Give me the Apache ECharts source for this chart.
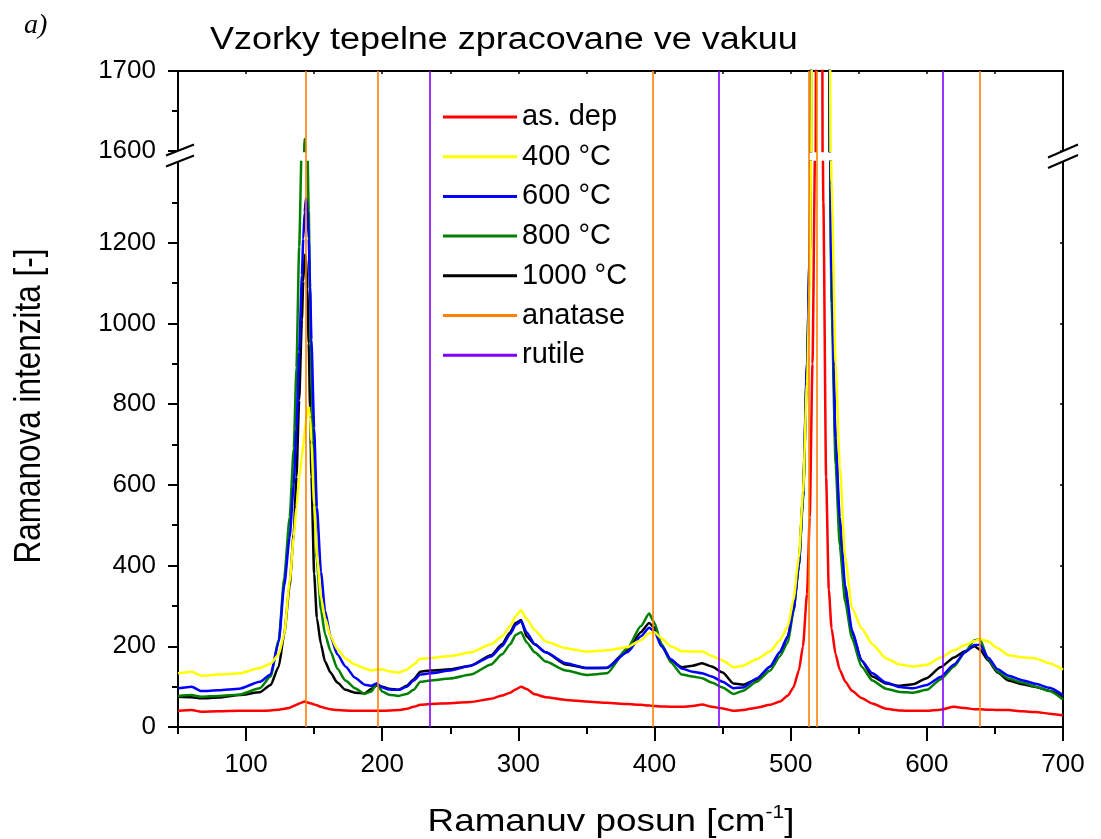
<!DOCTYPE html>
<html>
<head>
<meta charset="utf-8">
<script src="https://cdn.jsdelivr.net/npm/echarts@6/dist/echarts.min.js"></script>
<style>html,body{margin:0;padding:0;background:#fff;}#c{width:1101px;height:839px;}</style>
</head>
<body>
<div id="c"></div>
<script>
// ---- data ----
const ramanShift = [50,60,67,80,95,110,118,124,128,132,135,137,139,141,142,143,144,145,146,147,148,150,152,155,158,162,167,173,180,187,192,196,200,205,212,218,223,228,235,250,265,280,288,294,298,302,306,312,320,335,350,365,380,390,396,400,405,412,420,428,435,442,450,458,465,475,485,492,498,502,506,509,512,514,516,518,521,524,526,528,530,533,536,540,545,552,560,570,580,590,600,610,620,628,635,639,645,652,660,670,680,690,700];

const asDep = [40,42,38,39,40,40,41,43,45,48,52,55,58,61,62,63,62,61,60,59,58,56,54,50,47,44,42,41,40,40,40,40,40,41,42,45,50,55,57,59,62,70,78,85,93,100,94,81,74,67,63,60,57,55,53,52,51,50,50,52,56,50,46,40,42,48,55,63,78,98,140,200,330,520,900,1450,3500,1300,620,340,245,180,142,113,90,72,58,45,41,40,40,43,50,47,44,44,43,42,42,39,37,33,29];

const t400 = [133,137,127,130,133,146,157,180,230,360,470,545,615,670,700,730,760,785,792,768,705,550,425,322,270,225,193,170,155,145,140,142,143,138,135,142,155,169,171,176,185,205,225,250,275,289,268,240,212,195,187,190,198,215,232,235,220,200,188,187,187,176,165,148,152,168,188,215,250,315,420,580,850,1100,1900,3100,3900,3300,2700,2050,1350,900,650,420,295,245,205,170,155,150,154,172,190,203,213,218,212,195,178,173,170,158,142];

const t600 = [96,100,89,91,95,112,130,212,350,470,600,740,930,1120,1210,1275,1310,1290,1210,1090,960,740,545,385,288,225,180,150,122,105,102,108,98,93,92,100,115,130,133,140,152,175,200,230,253,262,235,205,185,158,146,147,185,225,246,237,200,168,145,137,133,125,112,96,98,120,150,185,225,290,400,570,900,1180,2300,3200,4000,3200,2500,1850,1130,716,520,350,240,165,133,110,99,96,104,124,155,185,203,204,172,143,127,116,107,97,79];

const t800 = [77,79,75,77,80,96,125,215,370,520,690,890,1190,1460,1560,1615,1570,1440,1280,1080,880,580,410,290,230,188,145,115,96,82,88,107,88,80,77,82,92,112,115,120,130,155,180,205,228,235,210,185,162,140,129,133,195,250,281,258,205,160,130,125,121,110,98,82,90,112,140,175,210,285,400,560,880,1170,2250,3200,4000,3200,2450,1800,1050,650,450,310,220,150,115,95,87,85,92,118,150,185,215,218,168,137,120,110,100,89,68];

const t1000 = [75,74,71,73,79,86,104,150,230,350,480,620,810,1010,1105,1170,1165,1085,950,790,620,380,270,205,162,135,110,92,85,83,95,103,100,95,92,102,118,137,140,143,152,178,205,235,258,265,225,205,185,155,146,146,190,235,258,246,205,165,148,152,158,150,135,108,105,118,150,185,225,290,400,570,890,1175,2250,3200,4000,3200,2450,1800,1100,700,480,330,235,165,125,108,102,106,121,148,172,188,200,192,165,135,115,106,99,90,75];

const anatasePeaks = [144, 197, 399, 513, 519, 639];
const rutilePeaks = [235, 447, 612];

const seriesNames = ['as. dep', '400 °C', '600 °C', '800 °C', '1000 °C'];
const seriesValues = [asDep, t400, t600, t800, t1000];
const seriesColors = ['#ff0000', '#ffff00', '#0000ff', '#008000', '#000000'];

const xLabelTicks = [100, 200, 300, 400, 500, 600, 700];
const xMinorTicks = [50, 150, 250, 350, 450, 550, 650];
const xAllTicks = [50,100,150,200,250,300,350,400,450,500,550,600,650,700];
const yLowerLabels = [0, 200, 400, 600, 800, 1000, 1200];

// ---- chart ----
const FONT = 'Liberation Sans, Arial, sans-serif';
const chart = echarts.init(document.getElementById('c'), null, {renderer: 'canvas'});

function pairs(vals) { return ramanShift.map((x, i) => [x, vals[i]]); }

const series = [];
const order = [0, 4, 3, 2, 1]; // draw order
order.forEach(k => {
  for (let g = 0; g < 2; g++) {
    series.push({
      name: seriesNames[k], type: 'line', xAxisIndex: g === 0 ? 0 : 2, yAxisIndex: g === 0 ? 0 : 2,
      data: pairs(seriesValues[k]), showSymbol: false, symbol: 'none', clip: true,
      smooth: 0.2, smoothMonotone: 'x',
      lineStyle: {color: seriesColors[k], width: 2.5}, itemStyle: {color: seriesColors[k]},
      z: 2, silent: true
    });
  }
});
[['anatase', anatasePeaks, '#ff8000'], ['rutile', rutilePeaks, '#8000ff']].forEach(([nm, arr, col]) => {
  series.push({
    name: nm, type: 'line', xAxisIndex: 3, yAxisIndex: 4,
    data: [], symbol: 'none', lineStyle: {color: col, width: 1.6}, itemStyle: {color: col}, z: 3,
    markLine: {symbol: 'none', silent: true, label: {show: false}, animation: false,
      lineStyle: {color: col, width: 1.6, type: 'solid'},
      data: arr.map(v => ({xAxis: v}))}
  });
});

const axisLine = {show: true, lineStyle: {color: '#000', width: 2}};
const tickLabel = {fontFamily: FONT, fontSize: 26, color: '#000', formatter: v => String(v)};
const option = {
  animation: false,
  backgroundColor: '#fff',
  legend: {
    orient: 'vertical', left: 438, top: 97, itemWidth: 74, itemHeight: 3, itemGap: 9.7, icon: 'rect',
    data: ['as. dep', '400 °C', '600 °C', '800 °C', '1000 °C', 'anatase', 'rutile'],
    textStyle: {fontFamily: FONT, fontSize: 29, color: '#000', lineHeight: 30},
    selectedMode: false
  },
  grid: [
    {left: 178, right: 38, top: 162, bottom: 112, outerBoundsMode: 'none', containLabel: false},
    {left: 178, right: 38, top: 71, bottom: 688, outerBoundsMode: 'none', containLabel: false},
    {left: 178, right: 38, top: 71, bottom: 112, outerBoundsMode: 'none', containLabel: false}
  ],
  xAxis: [
    {gridIndex: 0, type: 'value', min: 50, max: 700, position: 'bottom',
      axisLine: axisLine, splitLine: {show: false},
      axisTick: {show: true, customValues: xLabelTicks, length: 14, lineStyle: {width: 2, color: '#000'}},
      axisLabel: Object.assign({customValues: xLabelTicks, margin: 25}, tickLabel)},
    {gridIndex: 0, type: 'value', min: 50, max: 700, position: 'bottom',
      axisLine: {show: false}, splitLine: {show: false}, axisLabel: {show: false},
      axisTick: {show: true, customValues: xMinorTicks, length: 7, lineStyle: {width: 2, color: '#000'}}},
    {gridIndex: 1, type: 'value', min: 50, max: 700, position: 'top',
      axisLine: axisLine, splitLine: {show: false}, axisLabel: {show: false},
      axisTick: {show: true, inside: true, customValues: xAllTicks, length: 3, lineStyle: {width: 1.5, color: '#000'}}},
    {gridIndex: 2, type: 'value', min: 50, max: 700, show: false}
  ],
  yAxis: [
    {gridIndex: 0, type: 'value', min: 0, max: 1400, interval: 200, position: 'left',
      axisLine: axisLine, splitLine: {show: false},
      axisTick: {show: true, length: 10, customValues: yLowerLabels, lineStyle: {width: 2, color: '#000'}},
      minorTick: {show: true, splitNumber: 2, length: 6, lineStyle: {width: 2, color: '#000'}},
      axisLabel: Object.assign({customValues: yLowerLabels, margin: 22}, tickLabel)},
    {gridIndex: 0, type: 'value', min: 0, max: 1400, interval: 200, position: 'right',
      axisLine: axisLine, splitLine: {show: false}, axisLabel: {show: false},
      axisTick: {show: true, inside: true, length: 3, lineStyle: {width: 1.5, color: '#000'}}},
    {gridIndex: 1, type: 'value', min: 1600, max: 1700, interval: 100, position: 'left',
      axisLine: axisLine, splitLine: {show: false},
      axisTick: {show: true, length: 10, lineStyle: {width: 2, color: '#000'}},
      minorTick: {show: true, splitNumber: 2, length: 6, lineStyle: {width: 2, color: '#000'}},
      axisLabel: Object.assign({margin: 22}, tickLabel)},
    {gridIndex: 1, type: 'value', min: 1600, max: 1700, interval: 100, position: 'right',
      axisLine: axisLine, splitLine: {show: false}, axisLabel: {show: false},
      axisTick: {show: true, inside: true, length: 3, lineStyle: {width: 1.5, color: '#000'}}},
    {gridIndex: 2, type: 'value', min: 0, max: 1, show: false}
  ],
  graphic: [
    {type: 'text', x: 24, y: 12, style: {text: 'a)', font: 'italic 28px Liberation Serif, serif', fill: '#000'}},
    {type: 'text', x: 210, y: 40, scaleX: 1.16,
      style: {text: 'Vzorky tepelne zpracovane ve vakuu', font: '31px Liberation Sans, Arial, sans-serif', fill: '#000', align: 'left', verticalAlign: 'middle'}},
    {type: 'text', x: 30, y: 406, rotation: Math.PI / 2, scaleY: 1.17,
      style: {text: 'Ramanova intenzita [-]', font: '31.5px Liberation Sans, Arial, sans-serif', fill: '#000', align: 'center', verticalAlign: 'middle'}},
    {type: 'text', x: 611, y: 822, scaleX: 1.17,
      style: {text: '{a|Ramanuv posun [cm}{s|-1}{a|]}', align: 'center', verticalAlign: 'middle',
        rich: {a: {font: '31.5px Liberation Sans, Arial, sans-serif', fill: '#000', lineHeight: 36},
               s: {font: '18px Liberation Sans, Arial, sans-serif', fill: '#000', verticalAlign: 'top', lineHeight: 18}}}},
    // axis break marks (left)
    {type: 'polygon', shape: {points: [[167, 155], [193, 145], [193, 156], [167, 166]]}, style: {fill: '#fff'}, z: 50},
    {type: 'line', shape: {x1: 166, y1: 155.5, x2: 194, y2: 144.5}, style: {stroke: '#000', lineWidth: 2}, z: 51},
    {type: 'line', shape: {x1: 166, y1: 166.5, x2: 194, y2: 155.5}, style: {stroke: '#000', lineWidth: 2}, z: 51},
    // axis break marks (right)
    {type: 'polygon', shape: {points: [[1049, 157], [1077, 145], [1077, 156], [1049, 167]]}, style: {fill: '#fff'}, z: 50},
    {type: 'line', shape: {x1: 1048, y1: 157.5, x2: 1078, y2: 144.5}, style: {stroke: '#000', lineWidth: 2}, z: 51},
    {type: 'line', shape: {x1: 1048, y1: 168, x2: 1078, y2: 155}, style: {stroke: '#000', lineWidth: 2}, z: 51}
  ],
  series: series
};
chart.setOption(option);
</script>
</body>
</html>
